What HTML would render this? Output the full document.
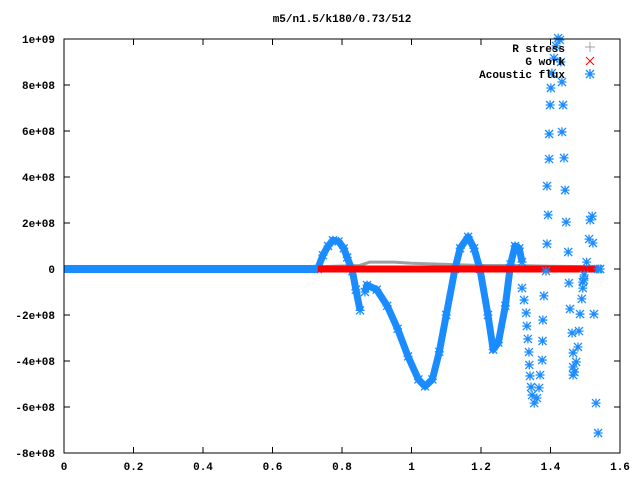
<!DOCTYPE html>
<html><head><meta charset="utf-8"><style>
html,body{margin:0;padding:0;background:#fff}
svg{display:block}
text{font-family:"Liberation Mono","DejaVu Sans Mono",monospace;font-size:11px;font-weight:bold;fill:#000}
</style></head><body>
<svg id="chart" width="640" height="480" xmlns="http://www.w3.org/2000/svg">
<text x="342" y="22" text-anchor="middle">m5/n1.5/k180/0.73/512</text>
<g id="ticks"></g>
<g id="plot"></g>
<rect x="64" y="39" width="556" height="414" fill="none" stroke="#000" stroke-width="1"/>
<g>
<g>
<text x="565" y="52" text-anchor="end">R stress</text>
<path d="M585 47h10M590 42v10" stroke="#a0a0a0" stroke-width="1"/></g>
<g>
<text x="565" y="65" text-anchor="end">G work</text>
<path d="M586 57l8 8M594 57l-8 8" stroke="#ff0000" stroke-width="1"/></g>
<g>
<text x="565" y="78" text-anchor="end">Acoustic flux</text>
<path d="M586 70l8 8M594 70l-8 8M585 74h10M590 69v10" stroke="#1a8cff" stroke-width="1.3"/></g>
</g>
</svg>
<script>
var xTicks=[0,0.2,0.4,0.6,0.8,1,1.2,1.4,1.6];
var xTickLabels=["0","0.2","0.4","0.6","0.8","1","1.2","1.4","1.6"];
var yTicks=[10,8,6,4,2,0,-2,-4,-6,-8];
var yTickLabels=["1e+09","8e+08","6e+08","4e+08","2e+08","0","-2e+08","-4e+08","-6e+08","-8e+08"];
// values in units of 1e8
var flatX=[0,0.73];
var flatY=[0,0];
var gworkX=[0.73,1.54];
var gworkY=[0,0];
var rstressX=[0.73,0.85,0.88,0.95,1.0,1.1,1.2,1.3,1.4,1.54];
var rstressY=[0.1,0.15,0.3,0.3,0.25,0.2,0.15,0.15,0.12,0.1];
var seg1X=[0.73,0.745,0.76,0.774,0.79,0.805,0.815,0.83,0.84,0.852];
var seg1Y=[0,0.6,1.0,1.25,1.2,0.9,0.5,-0.1,-0.9,-1.8];
var seg2X=[0.866,0.872,0.9,0.93,0.96,0.99,1.02,1.039,1.06,1.08,1.10,1.125,1.14,1.163,1.18,1.197,1.22,1.235,1.25,1.27,1.285,1.298,1.31,1.318];
var seg2Y=[-1.0,-0.7,-0.9,-1.6,-2.6,-3.8,-4.8,-5.1,-4.8,-3.6,-2.0,0,0.9,1.4,0.9,0,-2.0,-3.5,-3.2,-1.6,0.2,1.0,0.9,0.3];
var sparseX=[1.318,1.324,1.330,1.332,1.335,1.338,1.339,1.341,1.344,1.347,1.353,1.361,1.367,1.370,1.376,1.377,1.378,1.381,1.387,1.390,1.393,1.390,1.396,1.396,1.399,1.401,1.404,1.410,1.416,1.422,1.427,1.430,1.433,1.436,1.433,1.439,1.442,1.445,1.451,1.453,1.456,1.462,1.465,1.465,1.465,1.469,1.474,1.479,1.482,1.485,1.490,1.493,1.493,1.496,1.497,1.504,1.511,1.514,1.520,1.522,1.525,1.531,1.537,1.537,1.543];
var sparseY=[-0.83,-1.35,-1.91,-2.48,-3.04,-3.61,-4.17,-4.65,-5.13,-5.48,-5.83,-5.61,-5.17,-4.61,-3.96,-3.13,-2.22,-1.17,-0.09,1.09,2.35,3.61,4.78,5.87,7.13,7.87,8.52,9.17,9.70,10.04,9.96,9.0,8.13,7.13,5.96,4.83,3.43,2.04,0.74,-0.61,-1.74,-2.78,-3.65,-4.26,-4.61,-4.48,-4.04,-3.39,-2.70,-1.96,-1.30,-0.83,-0.57,-0.48,-0.26,0.30,1.30,2.13,2.30,1.13,-1.96,-5.83,-7.13,0,0];
var NS="http://www.w3.org/2000/svg";
function sx(v){return 64+v*347.5;}
function sy(v){return 269-v*23;}
var ticks=document.getElementById('ticks'),plot=document.getElementById('plot');
function mk(tag,attrs,parent){var e=document.createElementNS(NS,tag);for(var k in attrs)e.setAttribute(k,attrs[k]);parent.appendChild(e);return e;}
xTicks.forEach(function(v,i){
 var x=sx(v);
 var t=mk('path',{d:'M'+x+' 453v-6M'+x+' 39v6',stroke:'#000'},ticks);
 
 
 var l=mk('text',{x:x,y:470,'text-anchor':'middle'},ticks);l.textContent=xTickLabels[i];
 
 
});
yTicks.forEach(function(v,i){
 var y=sy(v);
 var t=mk('path',{d:'M64 '+y+'h6M620 '+y+'h-6',stroke:'#000'},ticks);
 
 
 var l=mk('text',{x:55,y:y+4,'text-anchor':'end'},ticks);l.textContent=yTickLabels[i];
 
 
});
function line(xs,ys,color,w,name){
 var d=xs.map(function(x,i){return (i?'L':'M')+sx(x)+' '+sy(ys[i]);}).join('');
 var p=mk('path',{d:d,stroke:color,'stroke-width':w,fill:'none','stroke-linejoin':'round','stroke-linecap':'butt'},plot);
 
 
}
function star(x,y){
 var cx=sx(x),cy=sy(y);
 var p=mk('path',{d:'M'+(cx-4)+' '+(cy-4)+'l8 8M'+(cx+4)+' '+(cy-4)+'l-8 8M'+(cx-4.5)+' '+cy+'h9M'+cx+' '+(cy-4.5)+'v9',stroke:'#1a8cff','stroke-width':1.3},plot);
 
 
}
line(rstressX,rstressY,'#a0a0a0',3,'r-stress-series');
line(flatX,flatY,'#1a8cff',8,'acoustic-flux-flat');
line(seg1X,seg1Y,'#1a8cff',7,'acoustic-flux-segment-1');
line(seg2X,seg2Y,'#1a8cff',7,'acoustic-flux-segment-2');
seg1X.forEach(function(x,i){star(x,seg1Y[i]);});
seg2X.forEach(function(x,i){star(x,seg2Y[i]);});
line(gworkX,gworkY,'#ff0000',7,'g-work-series');
sparseX.forEach(function(x,i){star(x,sparseY[i]);});
</script>
</body></html>
